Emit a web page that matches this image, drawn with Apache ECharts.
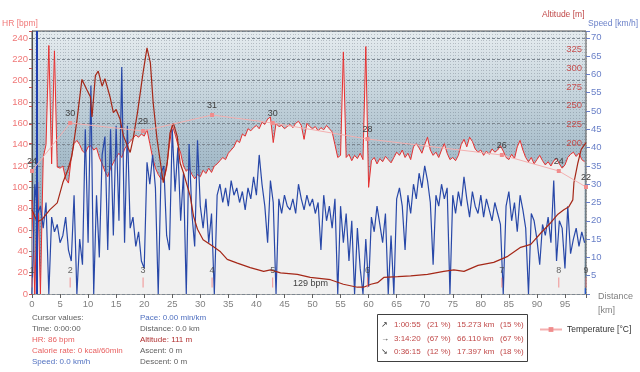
<!DOCTYPE html>
<html><head><meta charset="utf-8">
<script src="https://cdn.jsdelivr.net/npm/echarts@6/dist/echarts.min.js"></script>
<style>html,body{margin:0;padding:0;background:#fff}#c{width:640px;height:372px}</style>
</head><body><div id="c"></div>
<script>
// ---- data (distance sampled every 0.5 km) ----
const STEP_KM = 0.5;
const hrBpm = [
 88,0,105,0,128,140,233,122,228,119,
 118,120,108,104,128,141,144,140,134,132,
 138,139,135,137,128,122,115,110,118,123,
 128,132,128,136,140,143,146,149,147,150,
 148,154,141,128,118,112,108,107,118,140,
 158,150,140,132,120,115,118,112,108,112,
 110,116,113,118,114,120,122,125,128,126,
 132,135,138,144,142,150,148,155,153,156,
 158,155,161,159,164,166,142,160,157,158,
 155,157,159,156,160,162,158,145,160,157,
 155,157,153,156,154,158,155,152,140,128,
 130,227,128,131,125,130,127,132,126,232,
 100,125,128,122,127,124,129,126,123,128,
 133,130,135,128,132,126,138,141,137,132,
 140,147,135,130,133,128,135,141,132,126,
 128,125,130,140,145,138,147,143,136,133,
 135,130,134,131,136,133,135,139,134,128,
 126,131,127,138,144,135,128,124,128,122,
 126,130,125,121,124,120,125,127,122,118,
 121,128,131,133,129,132,126,124
];
const speedKmh = [
 0,30,22,24,18,25,0,21,17,19,
 14,16,21,12,9,27,0,15,8,45,
 14,57,0,27,10,38,43,12,45,16,
 46,20,62,14,46,18,21,13,17,9,
 7,36,30,38,29,0,33,35,16,12,
 45,28,40,20,33,0,41,22,13,42,
 24,18,26,14,22,0,27,30,25,29,
 24,31,27,29,25,28,23,29,26,32,
 27,38,30,24,14,31,25,0,26,22,
 27,24,23,26,22,30,26,23,27,24,
 26,22,25,12,27,20,24,18,26,0,
 24,14,22,9,20,0,18,7,0,15,
 2,21,17,24,19,14,22,0,16,0,
 26,29,24,12,27,22,30,26,33,29,
 35,31,25,8,27,24,30,26,29,0,
 27,22,28,24,32,26,21,28,24,22,
 27,21,26,23,20,25,22,19,0,24,
 28,20,25,17,27,23,18,0,22,20,
 15,8,19,16,21,14,31,9,20,18,
 7,24,11,15,18,13,17,14
];
const altKm = [0,0.9,1.8,3.2,4.5,5.5,6.4,7.1,8.0,8.9,9.8,10.4,10.7,11.3,11.8,12.5,13.0,13.9,14.5,15.0,15.7,16.3,17.1,17.5,18.0,18.8,19.8,20.5,21.1,21.6,22.3,22.9,23.4,24.1,24.6,25.2,25.9,26.4,27.0,28.2,28.8,29.5,30.5,32.3,33.6,34.8,36.6,38.9,41.3,42.5,44.3,47.3,49.6,53.2,55.5,58.0,59.1,60.4,61.6,62.7,65.2,67.5,70.5,73.4,75.2,77.0,79.5,82.3,84.8,87.1,88.9,90.7,92.5,93.75,94.8,95.7,96.4,96.6,97.3,97.9,98.75];
const altM = [112,96,99,112,121,148,165,183,230,285,271,262,235,290,296,276,286,262,241,245,232,210,195,188,205,241,294,327,307,254,205,174,148,174,214,227,209,174,161,130,103,86,72,63,56,46,41,35,30,32,28,26,22,19,13,9,9,13,15,22,23,24,26,30,32,30,38,42,50,62,66,81,95,106,112,116,125,148,174,192,201];
const tempKm = [0,6.8,19.8,32.1,42.9,59.8,83.75,93.9,98.75];
const tempC  = [24,30,29,31,30,28,26,24,22];
const lapKm  = [0,6.8,19.8,32.1,42.9,59.8,83.75,93.9,98.75];
const lapNo  = ['1','2','3','4','5','6','7','8','9'];
const hrTicks = [0,20,40,60,80,100,120,140,160,180,200,220,240];
const cursorKm = 0.85;
const totalKm = 98.75;

// ---- build ----
const F = 'Liberation Sans, Arial, sans-serif';
const hrData = hrBpm.map((v,i)=>[i*STEP_KM, v]);
const spData = speedKmh.map((v,i)=>[i*STEP_KM, v]);
const altData = altKm.map((k,i)=>[k, altM[i]]);
const tData = tempKm.map((k,i)=>[k, tempC[i]]);
const lapData = lapKm.map((k,i)=>({value:[k, 10.8], name: lapNo[i]}));

const chart = echarts.init(document.getElementById('c'), null, {renderer:'canvas'});
const txt = (x,y,t,c,sz)=>({type:'text', x:x, y:y, z:100, silent:true, style:{text:t, fill:c, font:(sz||8)+'px '+F, verticalAlign:'middle'}});

chart.setOption({
  animation:false,
  backgroundColor:'#ffffff',
  grid:{left:32, right:54, top:31, bottom:78, show:true, borderColor:'#505050', borderWidth:1,
    outerBoundsMode:'none',
    backgroundColor:new echarts.graphic.LinearGradient(0,0,0,1,[
      {offset:0,color:'#e6ecef'},{offset:0.45,color:'#aabfcc'},{offset:1,color:'#6f93ab'}])},
  xAxis:[
    {type:'value', min:0, max:totalKm, interval:5, position:'bottom',
     axisLine:{show:false}, axisTick:{show:true, length:4, lineStyle:{color:'#606060'}},
     axisLabel:{color:'#808080', fontSize:9.5, fontFamily:F, margin:5, formatter:v=>(v%5===0?String(v):'')},
     splitLine:{show:false}},
    {type:'value', min:0, max:totalKm, interval:0.5, position:'top', show:true,
     axisLine:{show:false}, axisTick:{show:false}, axisLabel:{show:false},
     splitLine:{show:true, lineStyle:{color:'rgba(70,80,95,0.28)', width:1, type:[1,2]}}}
  ],
  yAxis:[
    {type:'value', min:0, max:246.6, interval:20, position:'left',
     axisLine:{show:true, lineStyle:{color:'#505050'}}, axisTick:{show:true, length:3, lineStyle:{color:'#808080'}},
     axisLabel:{color:'#f07878', fontSize:9.5, fontFamily:F, margin:4, formatter:v=>(hrTicks.indexOf(v)>=0?String(v):'')},
     splitLine:{show:true, lineStyle:{color:'#7d8790', width:1, type:[3,2]}}},
    {type:'value', min:0, max:349.3, interval:25, position:'right',
     axisLine:{show:false}, axisTick:{show:true, inside:true, length:3, lineStyle:{color:'#c05050'}},
     axisLabel:{inside:true, color:'#c55050', fontSize:9.5, fontFamily:F, margin:4, formatter:v=>(v>0&&v<=325&&v%25===0?String(v):'')},
     splitLine:{show:false}},
    {type:'value', min:0, max:71.86, interval:5, position:'right',
     axisLine:{show:false}, axisTick:{show:true, length:4, lineStyle:{color:'#6a80c8'}},
     axisLabel:{color:'#6a80c8', fontSize:9.5, fontFamily:F, margin:5, formatter:v=>(v>0&&v<=70&&v%5===0?String(v):'')},
     splitLine:{show:false}},
    {type:'value', min:8.625, max:41.5, show:false, splitLine:{show:false}}
  ],
  legend:{data:['Temperature [°C]'], left:534, top:320, itemWidth:22, itemHeight:6, itemGap:4,
    textStyle:{color:'#303030', fontSize:8.5, fontFamily:F}},
  series:[
    {name:'HR', type:'line', xAxisIndex:0, yAxisIndex:0, data:hrData, showSymbol:false, z:2,
     lineStyle:{color:'#e53030', width:1}, areaStyle:{color:'#f0f0f0', opacity:1}},
    {name:'Speed', type:'line', xAxisIndex:0, yAxisIndex:2, data:spData, showSymbol:false, z:3,
     lineStyle:{color:'#2848a8', width:1.2},
     markArea:{silent:true, itemStyle:{color:'#2456c4'}, data:[[{xAxis:0, yAxis:0},{xAxis:totalKm, yAxis:1.6}]]},
     markLine:{silent:true, symbol:'none', label:{show:false}, lineStyle:{color:'#2040b0', width:2, type:'solid'}, data:[{xAxis:cursorKm}]}},
    {name:'Altitude', type:'line', xAxisIndex:0, yAxisIndex:1, data:altData, showSymbol:false, z:4,
     lineStyle:{color:'#a52818', width:1.2}},
    {name:'Temperature [°C]', type:'line', xAxisIndex:0, yAxisIndex:3, data:tData, z:5,
     symbol:'rect', symbolSize:4, showSymbol:true,
     itemStyle:{color:'#f08c8c'}, lineStyle:{color:'#f4b0b0', width:1},
     label:{show:true, position:'top', distance:3, color:'#404040', fontSize:9, fontFamily:F}},
    {name:'Laps', type:'scatter', xAxisIndex:0, yAxisIndex:0, data:lapData, z:5,
     symbol:'rect', symbolSize:[1,10], itemStyle:{color:'#f07878'},
     label:{show:true, position:'top', distance:2, color:'#404040', fontSize:9, fontFamily:F, formatter:p=>p.name}}
  ],
  graphic:[
    txt(2,24,'HR [bpm]','#f07878',8.5),
    txt(542,15,'Altitude [m]','#c04848',8.5),
    txt(588,24,'Speed [km/h]','#6a80c8',8.5),
    txt(598,297,'Distance','#808080',9),
    txt(598,311,'[km]','#808080',9),
    txt(293,284,'129 bpm','#404040',9),
    txt(32,318,'Cursor values:','#606060'),
    txt(32,329,'Time: 0:00:00','#606060'),
    txt(32,340,'HR: 86 bpm','#e86060'),
    txt(32,351,'Calorie rate: 0 kcal/60min','#e86060'),
    txt(32,362,'Speed: 0.0 km/h','#5070c0'),
    txt(140,318,'Pace: 0.00 min/km','#5070c0'),
    txt(140,329,'Distance: 0.0 km','#606060'),
    txt(140,340,'Altitude: 111 m','#b03030'),
    txt(140,351,'Ascent: 0 m','#606060'),
    txt(140,362,'Descent: 0 m','#606060'),
    {type:'rect', z:99, silent:true, shape:{x:377.5,y:314.5,width:150,height:47}, style:{fill:'#ffffff', stroke:'#404040', lineWidth:1}},
    txt(381,325,'↗','#303030'), txt(381,339,'→','#303030'), txt(381,352,'↘','#303030'),
    txt(394,325,'1:00:55','#c04848'), txt(427,325,'(21 %)','#c04848'), txt(457,325,'15.273 km','#c04848'), txt(500,325,'(15 %)','#c04848'),
    txt(394,339,'3:14:20','#c04848'), txt(427,339,'(67 %)','#c04848'), txt(457,339,'66.110 km','#c04848'), txt(500,339,'(67 %)','#c04848'),
    txt(394,352,'0:36:15','#c04848'), txt(427,352,'(12 %)','#c04848'), txt(457,352,'17.397 km','#c04848'), txt(500,352,'(18 %)','#c04848')
  ]
});
</script></body></html>
